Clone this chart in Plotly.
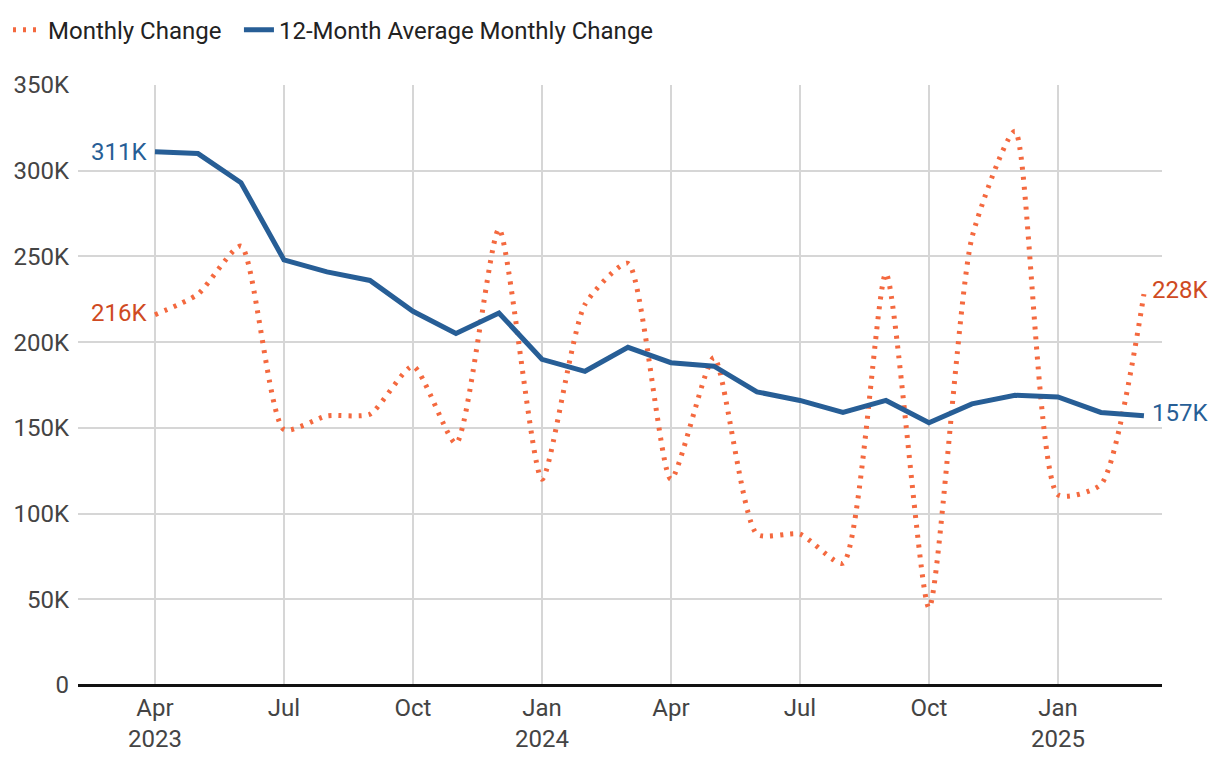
import plotly.graph_objects as go

months = ["Apr 2023", "May 2023", "Jun 2023", "Jul 2023", "Aug 2023", "Sep 2023",
          "Oct 2023", "Nov 2023", "Dec 2023", "Jan 2024", "Feb 2024", "Mar 2024",
          "Apr 2024", "May 2024", "Jun 2024", "Jul 2024", "Aug 2024", "Sep 2024",
          "Oct 2024", "Nov 2024", "Dec 2024", "Jan 2025", "Feb 2025", "Mar 2025"]
monthly_change = [216, 228, 256, 149, 157, 158, 186, 141, 266, 120, 222, 246,
                  120, 191, 88, 88, 71, 240, 45, 261, 323, 111, 117, 228]
avg_12m = [311, 310, 293, 248, 241, 236, 218, 205, 217, 190, 183, 197,
           188, 186, 171, 166, 159, 166, 153, 164, 169, 168, 159, 157]
tick_months = ["Apr 2023", "Jul 2023", "Oct 2023", "Jan 2024", "Apr 2024",
               "Jul 2024", "Oct 2024", "Jan 2025"]
tick_text = ["Apr<br>2023", "Jul", "Oct", "Jan<br>2024", "Apr", "Jul", "Oct", "Jan<br>2025"]
y_ticks = [0, 50, 100, 150, 200, 250, 300, 350]
y_text = ["0", "50K", "100K", "150K", "200K", "250K", "300K", "350K"]

ORANGE = "#f4693f"
ORANGE_TXT = "#cf4a22"
BLUE = "#275e96"

x = list(range(len(months)))
tickvals = [months.index(m) for m in tick_months]

fig = go.Figure()
fig.add_trace(go.Scatter(
    x=x, y=monthly_change, name="Monthly Change", mode="lines", legend="legend",
    line=dict(color=ORANGE, width=5, dash="3px,7px", shape="spline", smoothing=0.6),
    customdata=months, hovertemplate="%{customdata}: %{y}K<extra></extra>"))
fig.add_trace(go.Scatter(
    x=x, y=avg_12m, name="12-Month Average Monthly Change", mode="lines", legend="legend2",
    line=dict(color=BLUE, width=5),
    customdata=months, hovertemplate="%{customdata}: %{y}K<extra></extra>"))

# end labels
fig.add_annotation(x=x[0], y=avg_12m[0], text=f"{avg_12m[0]}K", xanchor="right",
                   showarrow=False, xshift=-6, font=dict(color=BLUE, size=24))
fig.add_annotation(x=x[0], y=monthly_change[0], text=f"{monthly_change[0]}K", xanchor="right",
                   showarrow=False, xshift=-6, yshift=2, font=dict(color=ORANGE_TXT, size=24))
fig.add_annotation(x=x[-1], y=monthly_change[-1], text=f"{monthly_change[-1]}K", xanchor="left",
                   showarrow=False, xshift=6, yshift=4, font=dict(color=ORANGE_TXT, size=24))
fig.add_annotation(x=x[-1], y=avg_12m[-1], text=f"{avg_12m[-1]}K", xanchor="left",
                   showarrow=False, xshift=6, yshift=3, font=dict(color=BLUE, size=24))

leg_common = dict(orientation="h", xref="container", yref="container",
                  y=0.971, xanchor="left", yanchor="middle",
                  font=dict(size=24, color="#222222"), itemwidth=30,
                  bgcolor="rgba(0,0,0,0)")

fig.update_layout(
    width=1220, height=764,
    margin=dict(l=70, r=66, t=77, b=87, autoexpand=False),
    paper_bgcolor="white", plot_bgcolor="white",
    font=dict(family="Roboto", size=24, color="#444444"),
    showlegend=True,
    legend=dict(x=0.0, **leg_common),
    legend2=dict(x=0.1893, **leg_common),
    xaxis=dict(range=[-1.79, 23.42], tickmode="array", tickvals=tickvals, ticktext=tick_text,
               showgrid=True, gridcolor="#d6d6d6", gridwidth=1.5, zeroline=False,
               ticks="", showline=False, ticklabelstandoff=6, fixedrange=True),
    yaxis=dict(range=[0, 350], tickmode="array", tickvals=y_ticks, ticktext=y_text,
               showgrid=True, gridcolor="#d6d6d6", gridwidth=1.5,
               zeroline=True, zerolinecolor="#111111", zerolinewidth=2.5,
               ticks="", ticklabelstandoff=8, fixedrange=True),
)

fig.write_html("out.html")
